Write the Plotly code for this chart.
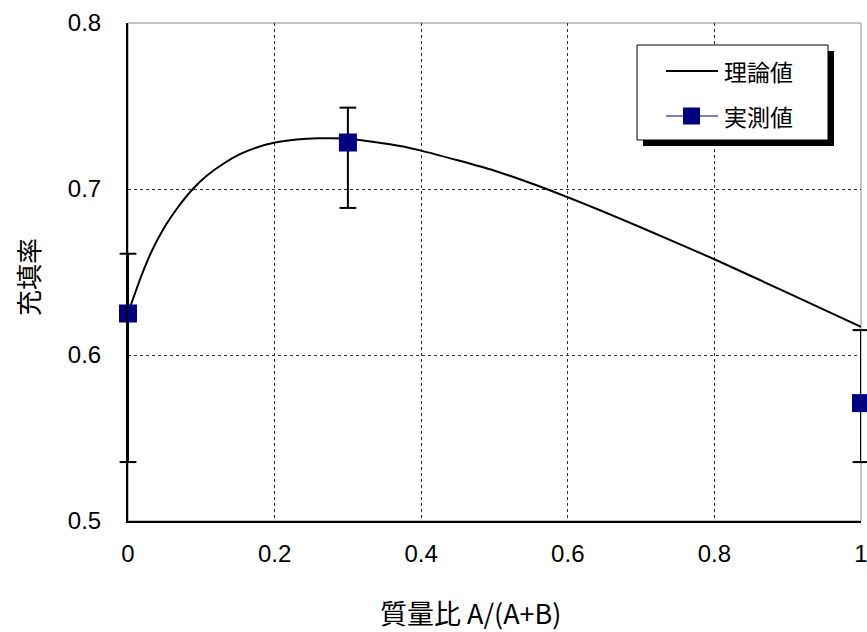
import plotly.graph_objects as go

# Theoretical packing-fraction curve (mass ratio vs packing fraction)
theory_x = [0, 0.005, 0.0187, 0.0323, 0.0505, 0.0686, 0.0891, 0.107, 0.130, 0.1528,
            0.1756, 0.2005, 0.230, 0.2596, 0.30, 0.371, 0.40, 0.50, 0.571, 0.60,
            0.644, 0.70, 0.80, 0.90, 1.0]
theory_y = [0.625, 0.6315, 0.6482, 0.6625, 0.6775, 0.6893, 0.7003, 0.7078, 0.7152, 0.7210,
            0.7250, 0.7280, 0.7298, 0.7305, 0.7303, 0.7259, 0.7231, 0.7110, 0.7000, 0.6950,
            0.6872, 0.6768, 0.6577, 0.6374, 0.617]

# Measured values with asymmetric error ranges
meas_x = [0, 0.3, 1.0]
meas_y = [0.625, 0.728, 0.571]
meas_hi = [0.661, 0.749, 0.615]
meas_lo = [0.5355, 0.6886, 0.5355]

series_names = ["理論値", "実測値"]

x_ticks = [0, 0.2, 0.4, 0.6, 0.8, 1]
x_tick_text = ["0", "0.2", "0.4", "0.6", "0.8", "1"]
y_ticks = [0.5, 0.6, 0.7, 0.8]
y_tick_text = ["0.5", "0.6", "0.7", "0.8"]

JP = "Noto Sans CJK JP"
NUM = "Liberation Sans, Arial"
NAVY = "#000080"

W, H = 867, 632
L, R, T, B = 128, 6, 23, 111
pw, ph = W - L - R, H - T - B


def fx(xp):
    return (xp - L) / pw


def fy(yp):
    return 1 - (yp - T) / ph


fig = go.Figure()

# Theory curve
fig.add_trace(go.Scatter(
    x=theory_x, y=theory_y, mode="lines", name=series_names[0],
    line=dict(color="black", width=2, shape="spline", smoothing=0.6),
    showlegend=False,
))

# Error bars: vertical stems and horizontal caps, not clipped at the axes
stem_x, stem_y, cap_x, cap_y = [], [], [], []
for x, hi, lo in zip(meas_x, meas_hi, meas_lo):
    stem_x += [x, x, None]
    stem_y += [lo, hi, None]
    cap_x += [x, x]
    cap_y += [lo, hi]
fig.add_trace(go.Scatter(
    x=stem_x, y=stem_y, mode="lines", line=dict(color="black", width=2),
    cliponaxis=False, showlegend=False, hoverinfo="skip",
))
fig.add_trace(go.Scatter(
    x=cap_x, y=cap_y, mode="markers",
    marker=dict(symbol="line-ew", size=12, line=dict(color="black", width=2)),
    cliponaxis=False, showlegend=False, hoverinfo="skip",
))

# Measured points
fig.add_trace(go.Scatter(
    x=meas_x, y=meas_y, mode="markers", name=series_names[1],
    marker=dict(symbol="square", size=18, color=NAVY),
    cliponaxis=False, showlegend=False,
))

# Legend box with drop shadow
lx0, lx1, ly0, ly1 = 637, 828, 45, 140
shadow = 6
shapes = [
    dict(type="rect", xref="paper", yref="paper",
         x0=fx(lx0 + shadow), x1=fx(lx1 + shadow), y0=fy(ly1 + shadow), y1=fy(ly0 + shadow),
         fillcolor="black", line=dict(width=0), layer="above"),
    dict(type="rect", xref="paper", yref="paper",
         x0=fx(lx0), x1=fx(lx1), y0=fy(ly1), y1=fy(ly0),
         fillcolor="white", line=dict(color="black", width=1), layer="above"),
    # theory sample line
    dict(type="line", xref="paper", yref="paper",
         x0=fx(666), x1=fx(718), y0=fy(71), y1=fy(71),
         line=dict(color="black", width=2), layer="above"),
    # measured sample line + marker
    dict(type="line", xref="paper", yref="paper",
         x0=fx(666), x1=fx(718), y0=fy(116), y1=fy(116),
         line=dict(color=NAVY, width=1), layer="above"),
    dict(type="rect", xref="paper", yref="paper",
         x0=fx(683), x1=fx(700), y0=fy(124.5), y1=fy(107.5),
         fillcolor=NAVY, line=dict(width=0), layer="above"),
    # plot frame (top/right light grey)
    dict(type="rect", xref="paper", yref="paper", x0=0, y0=0, x1=1, y1=1,
         line=dict(color="#888888", width=1), layer="below"),
]

annotations = [
    dict(xref="paper", yref="paper", x=fx(722), y=fy(71), text=series_names[0],
         showarrow=False, xanchor="left", yanchor="middle",
         font=dict(family=JP, size=23, color="black")),
    dict(xref="paper", yref="paper", x=fx(722), y=fy(116), text=series_names[1],
         showarrow=False, xanchor="left", yanchor="middle",
         font=dict(family=JP, size=23, color="black")),
    dict(xref="paper", yref="paper", x=fx(470), y=fy(612), text="質量比 A/(A+B)",
         showarrow=False, xanchor="center", yanchor="middle",
         font=dict(family=JP, size=27, color="black")),
    dict(xref="paper", yref="paper", x=fx(27), y=fy(277), text="充填率",
         showarrow=False, xanchor="center", yanchor="middle", textangle=-90,
         font=dict(family=JP, size=26, color="black")),
]

fig.update_layout(
    width=W, height=H,
    margin=dict(l=L, r=R, t=T, b=B, autoexpand=False),
    paper_bgcolor="white", plot_bgcolor="white",
    showlegend=False,
    shapes=shapes,
    annotations=annotations,
    xaxis=dict(
        range=[0, 1], tickvals=x_ticks, ticktext=x_tick_text,
        showgrid=True, gridcolor="#333333", griddash="dot", gridwidth=1,
        showline=True, linecolor="black", linewidth=2,
        zeroline=False, ticks="", ticklabelstandoff=10,
        ticklabeloverflow="allow", automargin=False,
        tickfont=dict(family=NUM, size=24, color="black"),
    ),
    yaxis=dict(
        range=[0.5, 0.8], tickvals=y_ticks, ticktext=y_tick_text,
        showgrid=True, gridcolor="#333333", griddash="dot", gridwidth=1,
        showline=True, linecolor="black", linewidth=2,
        zeroline=False, ticks="", ticklabelstandoff=20,
        ticklabeloverflow="allow", automargin=False,
        tickfont=dict(family=NUM, size=24, color="black"),
    ),
)

fig.write_html("out.html")
